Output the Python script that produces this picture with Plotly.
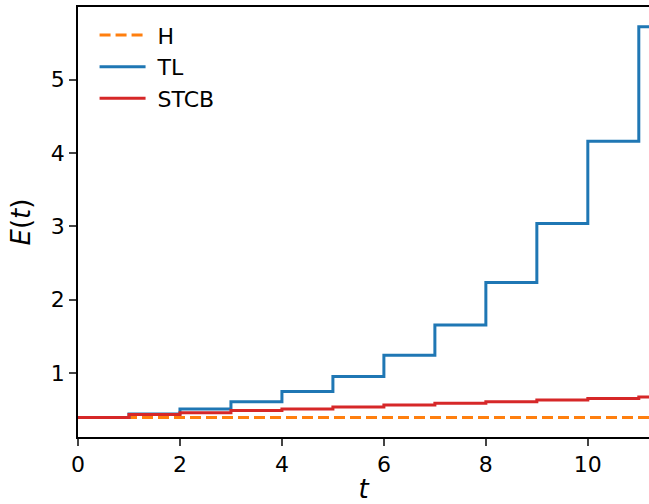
import plotly.graph_objects as go

t = list(range(13))
H = [0.395] * 13
TL = [0.395, 0.445, 0.51, 0.61, 0.75, 0.955, 1.245, 1.655, 2.235, 3.04, 4.16, 5.72, 5.72]
STCB = [0.395, 0.435, 0.46, 0.49, 0.513, 0.54, 0.565, 0.59, 0.612, 0.633, 0.655, 0.675, 0.675]

x_ticks = [0, 2, 4, 6, 8, 10]
y_ticks = [1, 2, 3, 4, 5]

FONT = "DejaVu Sans"
NB = "\u00a0"

fig = go.Figure()
fig.add_trace(go.Scatter(x=t, y=H, mode="lines", name=NB + "H", line_shape="hv",
                         line=dict(color="#ff7f0e", width=3, dash="11px,5px"), legendgroup="a"))
fig.add_trace(go.Scatter(x=t, y=TL, mode="lines", name=NB + "TL", line_shape="hv",
                         line=dict(color="#1f77b4", width=3), legendgroup="b"))
fig.add_trace(go.Scatter(x=t, y=STCB, mode="lines", name=NB + "STCB", line_shape="hv",
                         line=dict(color="#d62728", width=3), legendgroup="c"))

fig.update_layout(
    width=649, height=504,
    margin=dict(l=78, r=0, t=7, b=67),
    plot_bgcolor="white", paper_bgcolor="white",
    font=dict(family=FONT, size=22, color="black"),
    showlegend=True,
    legend=dict(x=0.029, y=0.983, xanchor="left", yanchor="top",
                bgcolor="rgba(0,0,0,0)", font=dict(size=22, family=FONT),
                itemwidth=46, tracegroupgap=9, traceorder="normal"),
)
fig.update_xaxes(range=[0, 11.2], tickvals=x_ticks, ticks="outside", ticklen=7, tickwidth=1.6,
                 showline=True, linecolor="black", linewidth=1.6, mirror=True,
                 showgrid=False, zeroline=False, tickfont=dict(size=22),
                 title=dict(text="<i>t</i>", font=dict(size=26, family=FONT), standoff=7))
fig.update_yaxes(range=[0.13, 5.99], tickvals=y_ticks, ticks="outside", ticklen=7, tickwidth=1.6,
                 showline=True, linecolor="black", linewidth=1.6,
                 showgrid=False, zeroline=False, tickfont=dict(size=22),
                 title=dict(text="<i>E</i>(<i>t</i>)", font=dict(size=26, family=FONT), standoff=13))

fig.write_html("out.html")
